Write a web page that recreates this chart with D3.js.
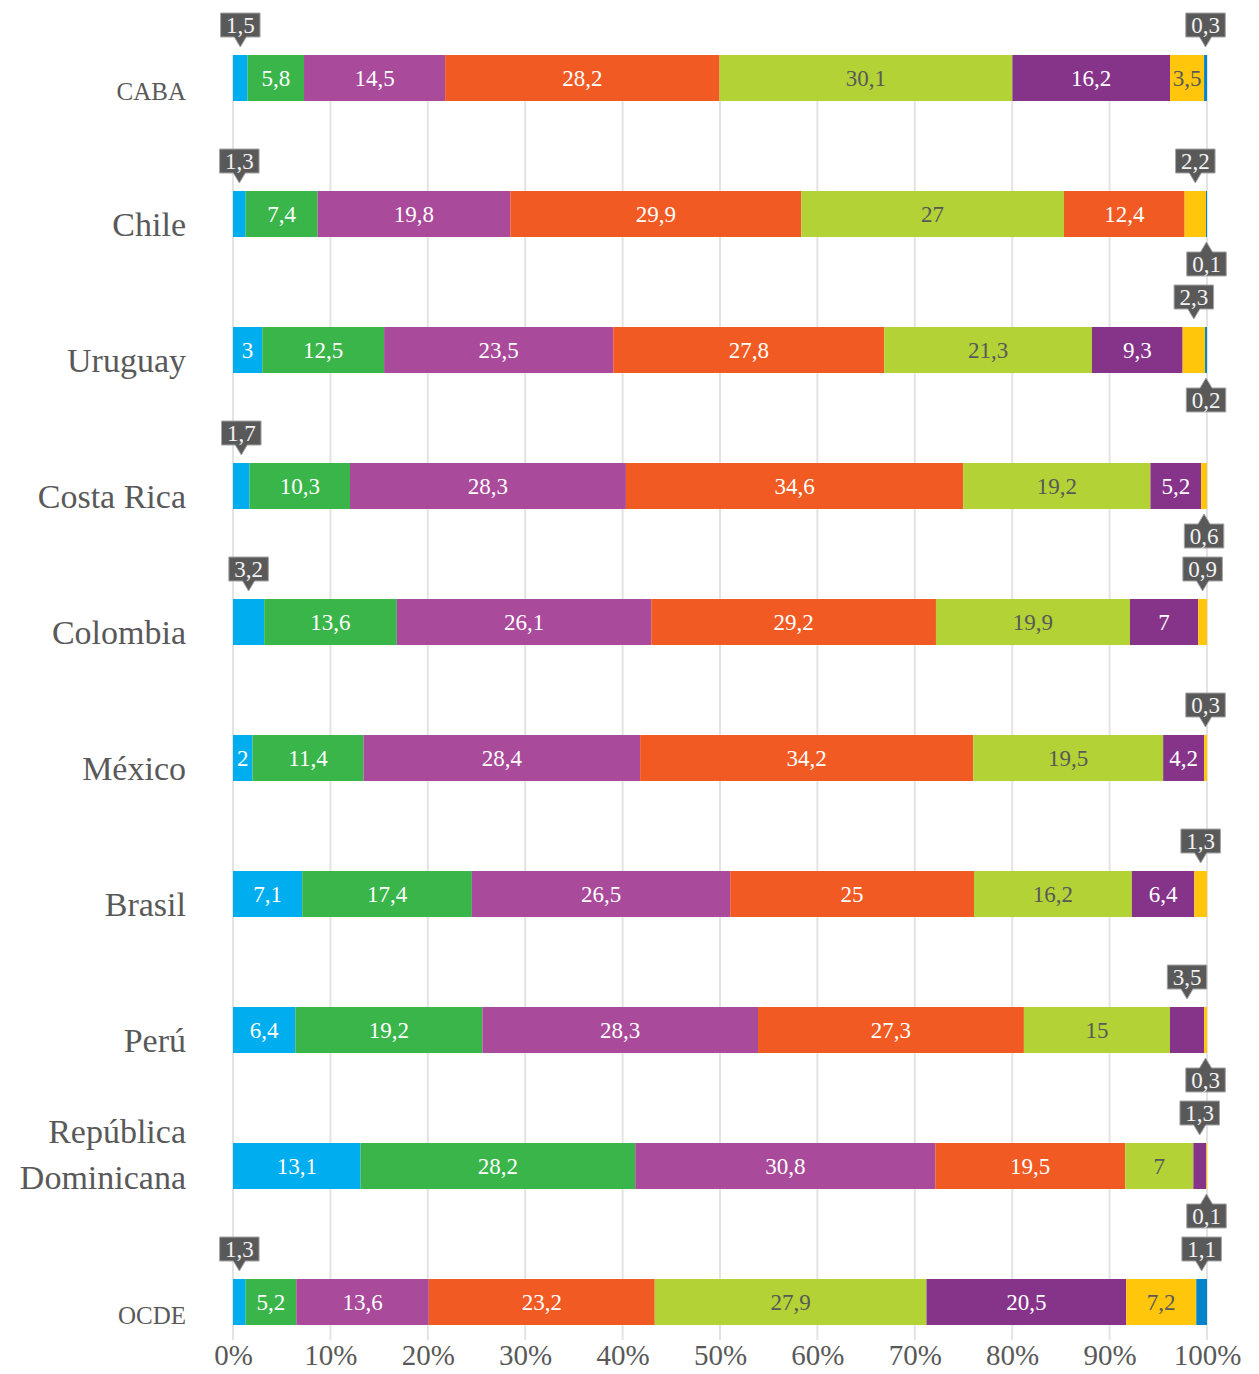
<!DOCTYPE html>
<html lang="es">
	<head>
		<meta charset="utf-8">
		<title>Distribución por país</title>
		<script type="text/javascript" src="https://d3js.org/d3.v7.min.js"></script>
		<style type="text/css">
			body { margin: 0; background: #fff; }
			text { font-family: "Liberation Serif", "DejaVu Serif", serif; }
		</style>
	</head>
	<body>
		<script type="text/javascript">

			// Categories (rows), top to bottom
			var countries = ["CABA", "Chile", "Uruguay", "Costa Rica", "Colombia", "México",
				"Brasil", "Perú", "República Dominicana", "OCDE"];

			// One array per series, in the order of the countries above
			var s1 = [1.5, 1.3, 3, 1.7, 3.2, 2, 7.1, 6.4, 13.1, 1.3];
			var s2 = [5.8, 7.4, 12.5, 10.3, 13.6, 11.4, 17.4, 19.2, 28.2, 5.2];
			var s3 = [14.5, 19.8, 23.5, 28.3, 26.1, 28.4, 26.5, 28.3, 30.8, 13.6];
			var s4 = [28.2, 29.9, 27.8, 34.6, 29.2, 34.2, 25, 27.3, 19.5, 23.2];
			var s5 = [30.1, 27, 21.3, 19.2, 19.9, 19.5, 16.2, 15, 7, 27.9];
			var s6 = [16.2, 12.4, 9.3, 5.2, 7, 4.2, 6.4, 3.5, 1.3, 20.5];
			var s7 = [3.5, 2.2, 2.3, 0.6, 0.9, 0.3, 1.3, 0.3, 0.1, 7.2];
			var s8 = [0.3, 0.1, 0.2, 0, 0, 0, 0, 0, 0, 1.1];

			var keys = ["s1", "s2", "s3", "s4", "s5", "s6", "s7", "s8"];
			var seriesValues = [s1, s2, s3, s4, s5, s6, s7, s8];

			// Axis ticks
			var ticks = [0, 10, 20, 30, 40, 50, 60, 70, 80, 90, 100];

			// Small values shown in a callout instead of inside the bar: [row, series, side]
			var callouts = [
				[0, 0, "up"], [0, 7, "up"],
				[1, 0, "up"], [1, 6, "up"], [1, 7, "down"],
				[2, 6, "up"], [2, 7, "down"],
				[3, 0, "up"], [3, 6, "down"],
				[4, 0, "up"], [4, 6, "up"],
				[5, 6, "up"],
				[6, 6, "up"],
				[7, 5, "up"], [7, 6, "down"],
				[8, 5, "up"], [8, 6, "down"],
				[9, 0, "up"], [9, 7, "up"]
			];

			//Width and height
			var w = 1259;
			var h = 1374;

			var colors = ["#00aeef", "#39b54a", "#a94a9a", "#f15a22", "#b2d235", "#86338a", "#ffc60b", "#0383ca"];
			var darkText = [false, false, false, false, true, false, true, false];
			var gray = "#595959";

			// table for the stack layout
			var dataset = countries.map(function(c, i) {
				var row = { country: c, index: i };
				keys.forEach(function(k, j) { row[k] = seriesValues[j][i]; });
				return row;
			});

			var stack = d3.stack()
				.keys(keys)
				.offset(d3.stackOffsetExpand);

			var series = stack(dataset);

			var xScale = d3.scaleLinear()
				.domain([0, 1])
				.range([233, 1207]);

			var yScale = d3.scaleBand()
				.domain(d3.range(countries.length))
				.range([10, 1370])
				.paddingInner(0.662)
				.paddingOuter(0.331);

			var bh = yScale.bandwidth();

			var svg = d3.select("body")
				.append("svg")
				.attr("width", w)
				.attr("height", h);

			// gridlines
			svg.append("g")
				.selectAll("line")
				.data(ticks)
				.enter()
				.append("line")
				.attr("x1", function(d) { return xScale(d / 100); })
				.attr("x2", function(d) { return xScale(d / 100); })
				.attr("y1", yScale(0))
				.attr("y2", 1340)
				.attr("stroke", "#e3e3e3")
				.attr("stroke-width", 2);

			// x axis labels
			var xAxis = d3.axisBottom(xScale)
				.tickValues(ticks.map(function(d) { return d / 100; }))
				.tickFormat(function(d) { return Math.round(d * 100) + "%"; })
				.tickSize(0)
				.tickPadding(0);

			var ax = svg.append("g")
				.attr("transform", "translate(0,1340)")
				.call(xAxis);
			ax.select(".domain").remove();
			ax.selectAll("text")
				.attr("dy", null)
				.attr("y", 25)
				.attr("font-size", 29)
				.attr("font-family", "Liberation Serif")
				.attr("fill", gray);

			// category labels
			var labels = svg.append("g")
				.selectAll("text")
				.data(countries)
				.enter()
				.append("text")
				.attr("text-anchor", "end")
				.attr("fill", gray)
				.attr("x", 186)
				.attr("y", function(d, i) { return yScale(i) + bh / 2 + 22; })
				.attr("font-size", function(d) { return (d == "CABA" || d == "OCDE") ? 25 : 34; });

			labels.each(function(d, i) {
				var t = d3.select(this);
				if (d == "República Dominicana") {
					var cy = yScale(i) + bh / 2;
					t.attr("y", null);
					t.append("tspan").attr("x", 186).attr("y", cy - 23).text("República");
					t.append("tspan").attr("x", 186).attr("y", cy + 23).text("Dominicana");
				} else {
					t.text(d);
				}
			});

			// bars
			var groups = svg.selectAll("g.serie")
				.data(series)
				.enter()
				.append("g")
				.attr("class", "serie");

			groups.selectAll("rect")
				.data(function(d) { return d; })
				.enter()
				.append("rect")
				.attr("x", function(d) { return xScale(d[0]); })
				.attr("y", function(d, i) { return yScale(i); })
				.attr("width", function(d) { return xScale(d[1]) - xScale(d[0]); })
				.attr("height", bh)
				.attr("fill", function(d, i) {
					var k = d3.select(this.parentNode).datum().index;
					// Chile's sixth segment is orange in the original
					if (countries[i] == "Chile" && k == 5) return colors[3];
					return colors[k];
				});

			function isCallout(row, k) {
				return callouts.some(function(c) { return c[0] == row && c[1] == k; });
			}

			function fmt(v) { return String(v).replace(".", ","); }

			// labels inside the bars
			groups.selectAll("text")
				.data(function(d) { return d.map(function(p) { return { p: p, k: d.index, key: d.key }; }); })
				.enter()
				.filter(function(d, i) { return d.p.data[d.key] > 0 && !isCallout(i, d.k); })
				.append("text")
				.attr("text-anchor", "middle")
				.attr("font-size", 23)
				.attr("fill", function(d) { return darkText[d.k] ? gray : "#ffffff"; })
				.attr("x", function(d) { return (xScale(d.p[0]) + xScale(d.p[1])) / 2; })
				.attr("y", function(d) { return yScale(d.p.data.index) + bh / 2 + 8; })
				.text(function(d) { return fmt(d.p.data[d.key]); });

			// callouts
			var cg = svg.append("g");
			callouts.forEach(function(c) {
				var row = c[0], k = c[1], up = c[2] == "up";
				var p = series[k][row];
				var cx = (xScale(p[0]) + xScale(p[1])) / 2;
				var txt = fmt(seriesValues[k][row]);
				var top = yScale(row), bottom = top + bh;
				var boxH = 24, boxW = txt.length * 10.5 + 8;
				var tip, by;
				if (up) {
					tip = top - 8;
					by = top - 18 - boxH;
				} else {
					tip = bottom + 5;
					by = bottom + 15;
				}
				var bx = cx - boxW / 2;
				var path = d3.path();
				if (up) {
					path.moveTo(bx, by);
					path.lineTo(bx + boxW, by);
					path.lineTo(bx + boxW, by + boxH);
					path.lineTo(cx + 6, by + boxH);
					path.lineTo(cx, tip);
					path.lineTo(cx - 6, by + boxH);
					path.lineTo(bx, by + boxH);
				} else {
					path.moveTo(bx, by);
					path.lineTo(cx - 6, by);
					path.lineTo(cx, tip);
					path.lineTo(cx + 6, by);
					path.lineTo(bx + boxW, by);
					path.lineTo(bx + boxW, by + boxH);
					path.lineTo(bx, by + boxH);
				}
				path.closePath();
				cg.append("path")
					.attr("d", path.toString())
					.attr("fill", gray)
					.attr("stroke", "#a6a6a6")
					.attr("stroke-width", 1);
				cg.append("text")
					.attr("x", cx)
					.attr("y", by + boxH / 2 + 8)
					.attr("text-anchor", "middle")
					.attr("font-size", 23)
					.attr("fill", "#f2f2f2")
					.text(txt);
			});

		</script>
	</body>
</html>
